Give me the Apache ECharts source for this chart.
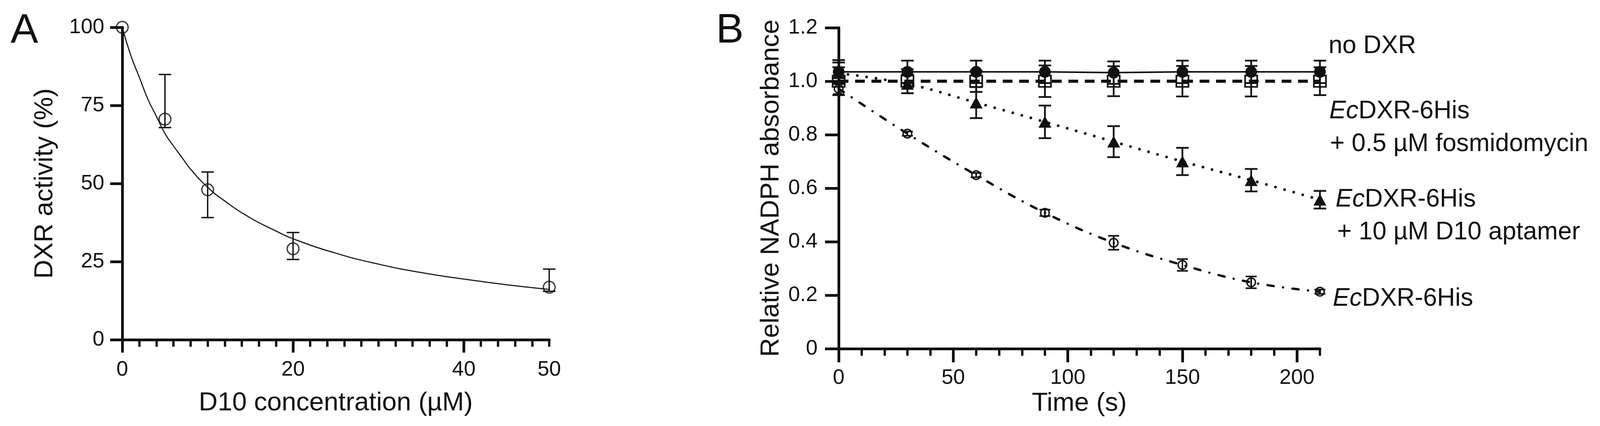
<!DOCTYPE html>
<html>
<head>
<meta charset="utf-8">
<title>DXR inhibition by the D10 aptamer</title>
<script src="https://cdn.jsdelivr.net/npm/echarts@6.0.0/dist/echarts.min.js"></script>
<style>
  html, body { margin: 0; padding: 0; background: #fff; }
  #chart { width: 4124px; height: 1091px; }
</style>
</head>
<body>
<div id="chart"></div>
<script>
// ---- Panel A: DXR activity vs D10 concentration ----
const aConc = [0, 5, 10, 20, 50];
const aActivity = [100, 70.6, 48.0, 29.1, 16.8];
const aErrLow = [null, 67.9, 39.1, 25.7, 15.5];
const aErrHigh = [null, 84.9, 53.7, 34.3, 22.6];
// fitted curve
const aFitConc = [0, 1, 2, 3, 4, 5, 6, 7, 8, 10, 12, 15, 18, 20, 25, 30, 35, 40, 45, 50];
const aFitActivity = [100, 91, 84, 77, 71.5, 66, 62, 58.3, 54.6, 48.8, 44.4, 39, 34.8, 32.3, 27.7, 24.2, 21.5, 19.4, 17.6, 16.1];
const aXLabels = [0, 20, 40, 50];
const aXMajorTicks = [0, 20, 40];
const aXMinorTicks = [2, 4, 6, 8, 10, 12, 14, 16, 18, 22, 24, 26, 28, 30, 32, 34, 36, 38, 42, 44, 46, 48, 50];

// ---- Panel B: relative NADPH absorbance over time ----
const bTime = [0, 30, 60, 90, 120, 150, 180, 210];
const bNoDxr = [1.035, 1.035, 1.035, 1.035, 1.032, 1.035, 1.035, 1.035];
const bNoDxrSd = [0.044, 0.042, 0.042, 0.042, 0.042, 0.042, 0.042, 0.042];
const bFosmido = [1.0, 1.0, 1.0, 1.0, 1.0, 1.0, 1.0, 1.0];
const bFosmidoSd = [0.052, 0.045, 0.04, 0.059, 0.056, 0.057, 0.057, 0.052];
const bAptamer = [1.03, 0.99, 0.92, 0.848, 0.774, 0.70, 0.63, 0.557];
const bAptamerSd = [0.04, 0.035, 0.058, 0.061, 0.058, 0.051, 0.042, 0.033];
const bEcDxr = [0.972, 0.804, 0.649, 0.508, 0.396, 0.313, 0.248, 0.213];
const bEcDxrSd = [0.02, 0.008, 0.008, 0.012, 0.026, 0.022, 0.022, 0.008];
const bXLabels = [0, 50, 100, 150, 200];
const bXMajorTicks = [0, 50, 100, 150, 200];
const bXMinorTicks = [10, 20, 30, 40, 60, 70, 80, 90, 110, 120, 130, 140, 160, 170, 180, 190, 210];

const FONT = "'Liberation Sans', Arial, Helvetica, sans-serif";
const INK = '#111';
const CLEAR = 'rgba(0,0,0,0)';

const chart = echarts.init(document.getElementById('chart'));

const pairs = (xs, ys) => xs.map((x, i) => [x, ys[i]]);

// vertical error bars with caps, drawn through the axes
function errorBars(xs, lows, highs, xAxisIndex, yAxisIndex, capWidth, lineWidth) {
    const data = [];
    xs.forEach((x, i) => {
        if (lows[i] != null) data.push([x, lows[i], highs[i]]);
    });
    return {
        type: 'custom',
        xAxisIndex, yAxisIndex,
        z: 1,
        silent: true,
        encode: { x: 0, y: [1, 2] },
        data,
        renderItem(params, api) {
            const lo = api.coord([api.value(0), api.value(1)]);
            const hi = api.coord([api.value(0), api.value(2)]);
            const h = capWidth / 2;
            const st = () => ({ stroke: INK, lineWidth });
            return {
                type: 'group',
                children: [
                    { type: 'line', shape: { x1: hi[0], y1: hi[1], x2: lo[0], y2: lo[1] }, style: st() },
                    { type: 'line', shape: { x1: hi[0] - h, y1: hi[1], x2: hi[0] + h, y2: hi[1] }, style: st() },
                    { type: 'line', shape: { x1: lo[0] - h, y1: lo[1], x2: lo[0] + h, y2: lo[1] }, style: st() }
                ]
            };
        }
    };
}

const tickLabel = { color: INK, fontFamily: FONT, fontSize: 54 };
const axisName = { color: INK, fontFamily: FONT, fontSize: 67 };
const axisLine = { show: true, onZero: false, lineStyle: { color: INK, width: 7 } };

function minorAxis(gridIndex, max, ticks) {
    return {
        type: 'value', gridIndex, position: 'bottom', min: 0, max,
        axisLine: { show: false, onZero: false },
        axisTick: { show: true, customValues: ticks, length: 18, lineStyle: { color: INK, width: 6 } },
        axisLabel: { show: false },
        splitLine: { show: false }
    };
}

function note(x, y, text) {
    return {
        type: 'text', x, y,
        style: {
            text,
            fill: INK, fontFamily: FONT, fontSize: 64,
            align: 'left', verticalAlign: 'middle',
            rich: { i: { fontStyle: 'italic', fontFamily: FONT, fontSize: 64, fill: INK } }
        }
    };
}

const option = {
    animation: false,
    backgroundColor: '#fff',
    grid: [
        { left: 313, top: 70, width: 1093, height: 800 },
        { left: 2147, top: 71, width: 1232, height: 822 }
    ],
    xAxis: [
        {
            type: 'value', gridIndex: 0, position: 'bottom', min: 0, max: 50,
            axisLine,
            axisTick: { show: true, customValues: aXMajorTicks, length: 33, lineStyle: { color: INK, width: 7 } },
            axisLabel: Object.assign({ customValues: aXLabels, margin: 50 }, tickLabel),
            splitLine: { show: false },
            name: 'D10 concentration (µM)', nameLocation: 'middle', nameGap: 129,
            nameTextStyle: axisName
        },
        minorAxis(0, 50, aXMinorTicks),
        {
            type: 'value', gridIndex: 1, position: 'bottom', min: 0, max: 210,
            axisLine,
            axisTick: { show: true, customValues: bXMajorTicks, length: 35, lineStyle: { color: INK, width: 7 } },
            axisLabel: Object.assign({ customValues: bXLabels, margin: 48 }, tickLabel),
            splitLine: { show: false },
            name: 'Time (s)', nameLocation: 'middle', nameGap: 105,
            nameTextStyle: axisName
        },
        minorAxis(1, 210, bXMinorTicks)
    ],
    yAxis: [
        {
            type: 'value', gridIndex: 0, min: 0, max: 100, interval: 25,
            axisLine,
            axisTick: { show: true, length: 31, lineStyle: { color: INK, width: 7 } },
            axisLabel: Object.assign({ margin: 46 }, tickLabel),
            splitLine: { show: false },
            name: 'DXR activity (%)', nameLocation: 'middle', nameGap: 164,
            nameTextStyle: axisName
        },
        {
            type: 'value', gridIndex: 1, min: 0, max: 1.2, interval: 0.2,
            axisLine,
            axisTick: { show: true, length: 35, lineStyle: { color: INK, width: 7 } },
            axisLabel: Object.assign({
                margin: 54,
                formatter: v => (v === 0 ? '0' : v.toFixed(1))
            }, tickLabel),
            splitLine: { show: false },
            name: 'Relative NADPH absorbance', nameLocation: 'middle', nameGap: 139,
            nameTextStyle: axisName
        }
    ],
    series: [
        // A
        {
            type: 'line', xAxisIndex: 0, yAxisIndex: 0,
            data: pairs(aFitConc, aFitActivity),
            smooth: true, showSymbol: false, silent: true, z: 2,
            lineStyle: { color: '#222', width: 3 }
        },
        errorBars(aConc, aErrLow, aErrHigh, 0, 0, 32, 3.5),
        {
            type: 'scatter', xAxisIndex: 0, yAxisIndex: 0,
            data: pairs(aConc, aActivity),
            symbol: 'circle', symbolSize: 30, z: 3, silent: true,
            itemStyle: { color: CLEAR, borderColor: INK, borderWidth: 3.5 }
        },
        // B error bars
        errorBars(bTime, bNoDxr.map((v, i) => v - bNoDxrSd[i]), bNoDxr.map((v, i) => v + bNoDxrSd[i]), 2, 1, 32, 4.5),
        errorBars(bTime, bFosmido.map((v, i) => v - bFosmidoSd[i]), bFosmido.map((v, i) => v + bFosmidoSd[i]), 2, 1, 32, 4.5),
        errorBars(bTime, bAptamer.map((v, i) => v - bAptamerSd[i]), bAptamer.map((v, i) => v + bAptamerSd[i]), 2, 1, 32, 4.5),
        errorBars(bTime, bEcDxr.map((v, i) => v - bEcDxrSd[i]), bEcDxr.map((v, i) => v + bEcDxrSd[i]), 2, 1, 28, 4),
        // B: no DXR
        {
            type: 'line', xAxisIndex: 2, yAxisIndex: 1, z: 3, silent: true,
            data: pairs(bTime, bNoDxr),
            symbol: 'circle', symbolSize: 30, showAllSymbol: true,
            itemStyle: { color: INK },
            lineStyle: { color: INK, width: 4 }
        },
        // B: EcDXR + fosmidomycin
        {
            type: 'line', xAxisIndex: 2, yAxisIndex: 1, z: 3, silent: true,
            data: pairs(bTime, bFosmido),
            symbol: 'rect', symbolSize: [31, 29], showAllSymbol: true,
            itemStyle: { color: CLEAR, borderColor: INK, borderWidth: 4 },
            lineStyle: { color: INK, width: 8, type: [25, 17], cap: 'butt' }
        },
        // B: EcDXR + D10 aptamer
        {
            type: 'line', xAxisIndex: 2, yAxisIndex: 1, z: 3, silent: true,
            data: pairs(bTime, bAptamer),
            smooth: 0.4,
            symbol: 'triangle', symbolSize: [33, 30], showAllSymbol: true,
            itemStyle: { color: INK },
            lineStyle: { color: INK, width: 7, type: [0.1, 24], cap: 'round' }
        },
        // B: EcDXR alone
        {
            type: 'line', xAxisIndex: 2, yAxisIndex: 1, z: 3, silent: true,
            data: pairs(bTime, bEcDxr),
            smooth: 0.4,
            symbol: 'circle', symbolSize: 22, showAllSymbol: true,
            itemStyle: { color: CLEAR, borderColor: INK, borderWidth: 3.5 },
            lineStyle: { color: INK, width: 6, type: [16, 24, 0.1, 24], cap: 'round' }
        }
    ],
    graphic: [
        { type: 'text', x: 27, y: 80, style: { text: 'A', fill: INK, fontFamily: FONT, fontSize: 106, verticalAlign: 'middle' } },
        { type: 'text', x: 1833, y: 80, style: { text: 'B', fill: INK, fontFamily: FONT, fontSize: 106, verticalAlign: 'middle' } },
        note(3401, 118, 'no DXR'),
        note(3403, 285, '{i|Ec}DXR-6His'),
        note(3405, 369, '+ 0.5 µM fosmidomycin'),
        note(3419, 511, '{i|Ec}DXR-6His'),
        note(3423, 595, '+ 10 µM D10 aptamer'),
        note(3412, 765, '{i|Ec}DXR-6His')
    ]
};

chart.setOption(option);
</script>
</body>
</html>
